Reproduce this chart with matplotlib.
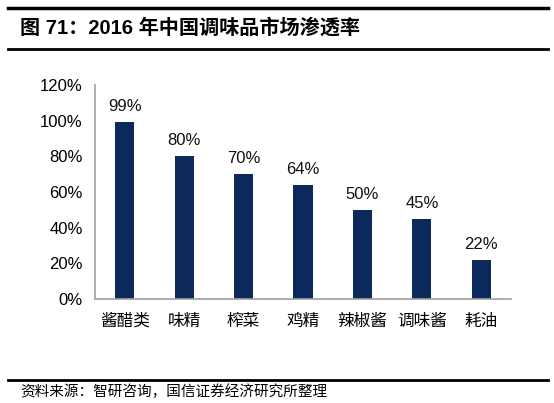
import matplotlib.pyplot as plt
from matplotlib.lines import Line2D

plt.rcParams['font.family'] = ['Liberation Sans', 'Noto Sans CJK SC', 'DejaVu Sans']

categories = ['酱醋类', '味精', '榨菜', '鸡精', '辣椒酱', '调味酱', '耗油']
values = [0.99, 0.80, 0.70, 0.64, 0.50, 0.45, 0.22]
value_labels = ['99%', '80%', '70%', '64%', '50%', '45%', '22%']
yticks = [0, 0.2, 0.4, 0.6, 0.8, 1.0, 1.2]
ytick_labels = ['0%', '20%', '40%', '60%', '80%', '100%', '120%']

fig = plt.figure(figsize=(5.54, 4.03), dpi=100)
ax = fig.add_axes([95 / 554, 1 - 299 / 403, 416 / 554, 214 / 403])

x = range(len(categories))
ax.bar(x, values, width=0.32, color='#0b2a5b')
for xi, v, lab in zip(x, values, value_labels):
    ax.text(xi, v + 0.045, lab, ha='center', va='bottom', fontsize=12, color='#111111')

ax.set_xlim(-0.5, len(categories) - 0.5)
ax.set_ylim(0, 1.2)
ax.set_yticks(yticks)
ax.set_yticklabels(ytick_labels, fontsize=12)
ax.set_xticks(list(x))
ax.set_xticklabels(categories, fontsize=12, family=['Noto Sans CJK SC'])
ax.tick_params(length=0, pad=9)
ax.tick_params(axis='x', pad=10)
for s in ['top', 'right']:
    ax.spines[s].set_visible(False)
for s in ['left', 'bottom']:
    ax.spines[s].set_color('#a0a0a0')
    ax.spines[s].set_linewidth(1.2)

# title bar and footer
fig.add_artist(Line2D([8 / 554, 548 / 554], [1 - 8 / 403] * 2, color='black', lw=2.5))
fig.add_artist(Line2D([8 / 554, 548 / 554], [1 - 49 / 403] * 2, color='black', lw=2))
fig.text(20 / 554, 1 - 28 / 403, '图 71：2016 年中国调味品市场渗透率', fontsize=14.5,
         fontweight='bold', va='center', ha='left')
fig.add_artist(Line2D([8 / 554, 548 / 554], [1 - 380 / 403] * 2, color='black', lw=2))
fig.text(20 / 554, 1 - 392 / 403, '资料来源：智研咨询，国信证券经济研究所整理', fontsize=10.5,
         va='center', ha='left', family=['Noto Sans CJK SC'])

fig.savefig('out.png', dpi=100)
